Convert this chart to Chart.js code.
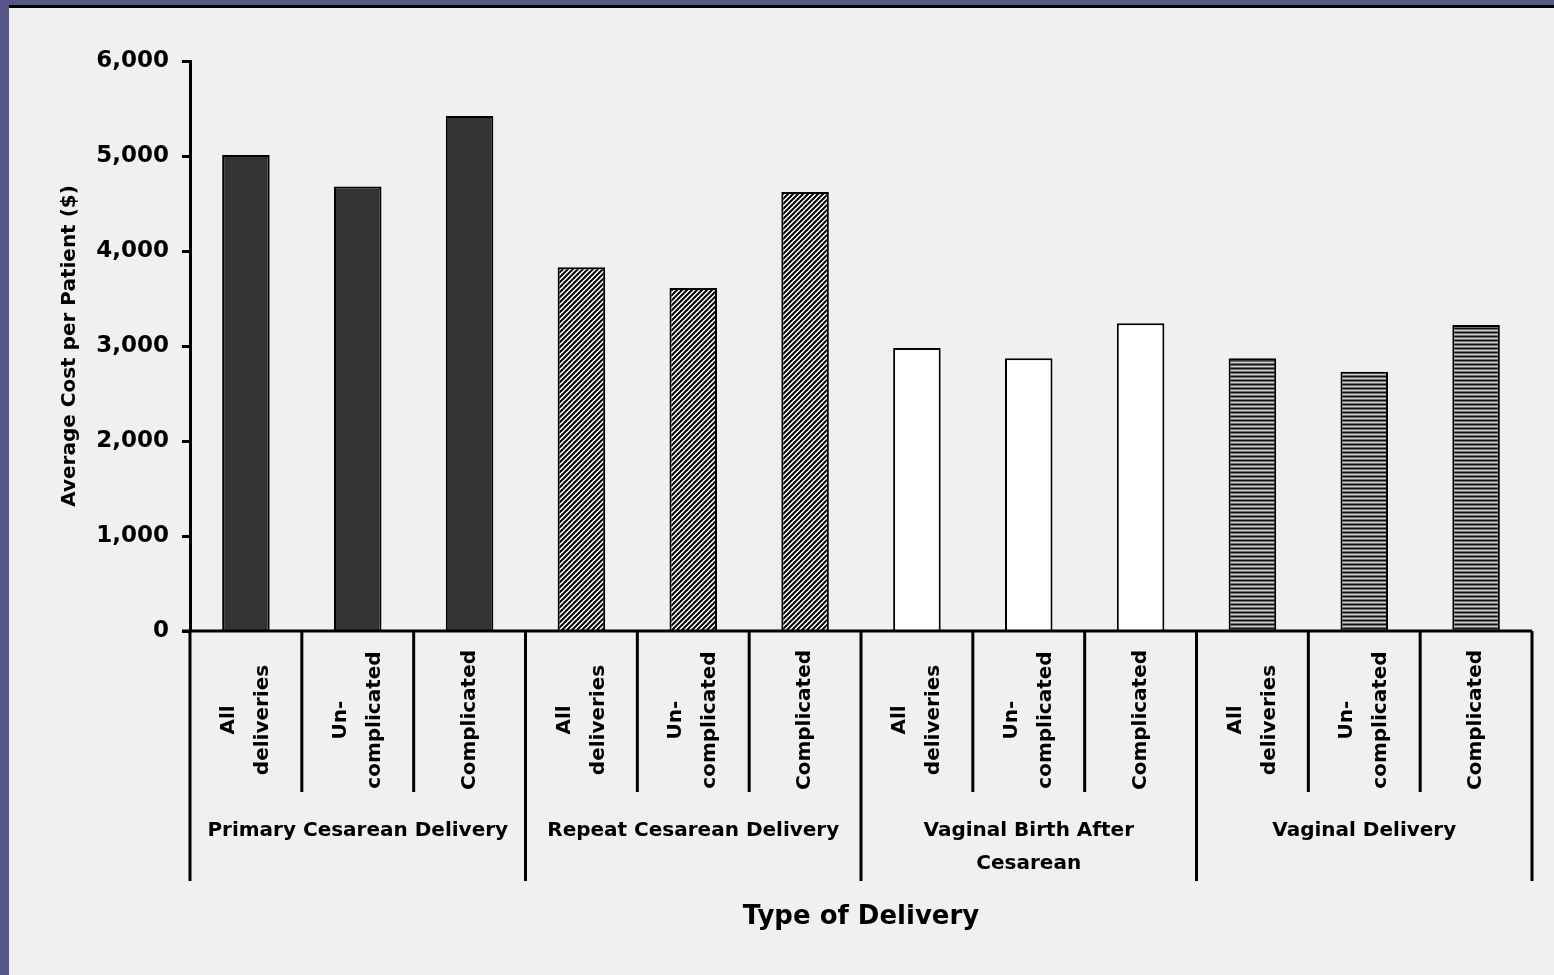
<!DOCTYPE html>
<html>
<head>
<meta charset="utf-8">
<script src="https://cdn.jsdelivr.net/npm/chart.js@4.4.1/dist/chart.umd.min.js"></script>
<style>
    html, body {
        margin: 0;
        padding: 0;
        width: 1554px;
        height: 975px;
        overflow: hidden;
        background: #57578c;
    }
    #panel {
        position: absolute;
        left: 9px;
        top: 5px;
        width: 1545px;
        height: 967px;
        border-top: 3px solid #000;
        background: #f0f0f2;
    }
</style>
</head>
<body>
<div id="panel">
    <canvas id="costChart" width="1545" height="967"></canvas>
</div>
<script>
// Chart data
const subCategories = [
    ['All', 'deliveries'], ['Un-', 'complicated'], ['Complicated'],
    ['All', 'deliveries'], ['Un-', 'complicated'], ['Complicated'],
    ['All', 'deliveries'], ['Un-', 'complicated'], ['Complicated'],
    ['All', 'deliveries'], ['Un-', 'complicated'], ['Complicated']
];
const deliveryTypes = [
    ['Primary Cesarean Delivery'],
    ['Repeat Cesarean Delivery'],
    ['Vaginal Birth After', 'Cesarean'],
    ['Vaginal Delivery']
];
const avgCost = [5010, 4680, 5420, 3830, 3610, 4620, 2980, 2870, 3240, 2870, 2730, 3220];
const yTicks = [0, 1000, 2000, 3000, 4000, 5000, 6000];
const yTitle = 'Average Cost per Patient ($)';
const xTitle = 'Type of Delivery';

const FONT = '"DejaVu Sans", sans-serif';

// Build fill patterns for each delivery type
function makePattern(w, h, draw) {
    const c = document.createElement('canvas');
    c.width = w;
    c.height = h;
    const g = c.getContext('2d');
    draw(g);
    return g.createPattern(c, 'repeat');
}

const solidDark = '#333333';
const hatch = makePattern(5, 5, g => {
    g.fillStyle = '#ffffff';
    g.fillRect(0, 0, 5, 5);
    g.strokeStyle = '#000';
    g.lineWidth = 2;
    g.beginPath();
    g.moveTo(-1, 6); g.lineTo(6, -1);
    g.moveTo(-1, 1); g.lineTo(1, -1);
    g.moveTo(4, 6); g.lineTo(6, 4);
    g.stroke();
});
const plainWhite = '#ffffff';
const stripes = makePattern(4, 4, g => {
    g.fillStyle = '#111'; g.fillRect(0, 0, 4, 1);
    g.fillStyle = '#6e6e6e'; g.fillRect(0, 1, 4, 1);
    g.fillStyle = '#cfcfcf'; g.fillRect(0, 2, 4, 1);
    g.fillStyle = '#6e6e6e'; g.fillRect(0, 3, 4, 1);
});
const groupFills = [solidDark, hatch, plainWhite, stripes];
const barFills = avgCost.map((v, i) => groupFills[Math.floor(i / 3)]);

// Draw the x axis, category labels, dividers and titles
const axisLabels = {
    id: 'axisLabels',
    afterDraw(chart) {
        const ctx = chart.ctx;
        const x = chart.scales.x;
        const area = chart.chartArea;
        const base = area.bottom;
        const step = x.getPixelForValue(1) - x.getPixelForValue(0);

        ctx.save();
        ctx.strokeStyle = '#000';
        ctx.fillStyle = '#000';
        ctx.lineWidth = 3;

        // x axis line
        ctx.beginPath();
        ctx.moveTo(area.left - 8, base);
        ctx.lineTo(area.right, base);
        ctx.stroke();

        // dividers
        for (let i = 0; i <= subCategories.length; i++) {
            const px = i < subCategories.length
                ? x.getPixelForValue(i) - step / 2
                : x.getPixelForValue(i - 1) + step / 2;
            const len = i % 3 === 0 ? 250 : 161;
            ctx.beginPath();
            ctx.moveTo(px, base);
            ctx.lineTo(px, base + len);
            ctx.stroke();
        }

        // rotated sub-category labels
        ctx.font = 'bold 20px ' + FONT;
        ctx.textAlign = 'center';
        ctx.textBaseline = 'middle';
        subCategories.forEach((lines, i) => {
            const cx = x.getPixelForValue(i);
            lines.forEach((line, j) => {
                const off = (j - (lines.length - 1) / 2) * 34;
                ctx.save();
                ctx.translate(cx + off, base + 89);
                ctx.rotate(-Math.PI / 2);
                ctx.fillText(line, 0, 0);
                ctx.restore();
            });
        });

        // group labels
        ctx.font = 'bold 20px ' + FONT;
        deliveryTypes.forEach((lines, g) => {
            const cx = (x.getPixelForValue(g * 3) + x.getPixelForValue(g * 3 + 2)) / 2;
            lines.forEach((line, j) => {
                ctx.fillText(line, cx, base + 200 + j * 33);
            });
        });

        // x title
        ctx.font = 'bold 26px ' + FONT;
        ctx.fillText(xTitle, (area.left + area.right) / 2, base + 286);

        // y title
        ctx.font = 'bold 20px ' + FONT;
        ctx.save();
        ctx.translate(61, (area.top + area.bottom) / 2);
        ctx.rotate(-Math.PI / 2);
        ctx.fillText(yTitle, 0, 0);
        ctx.restore();

        ctx.restore();
    }
};

const ctx = document.getElementById('costChart').getContext('2d');

new Chart(ctx, {
    type: 'bar',
    data: {
        labels: subCategories.map(l => l.join(' ')),
        datasets: [{
            data: avgCost,
            backgroundColor: barFills,
            borderColor: '#000',
            borderWidth: 2,
            borderSkipped: 'bottom',
            barPercentage: 0.425,
            categoryPercentage: 1
        }]
    },
    options: {
        responsive: false,
        animation: false,
        layout: {
            padding: { top: 53, right: 22, left: 0, bottom: 0 }
        },
        plugins: {
            legend: { display: false },
            tooltip: { enabled: false }
        },
        scales: {
            x: {
                grid: { display: false },
                border: { display: false },
                ticks: { display: false },
                afterFit: scale => { scale.height = 344; }
            },
            y: {
                min: 0,
                max: 6000,
                afterBuildTicks: scale => {
                    scale.ticks = yTicks.map(v => ({ value: v }));
                },
                afterFit: scale => { scale.width = 181; },
                border: { display: true, color: '#000', width: 3 },
                grid: {
                    drawOnChartArea: false,
                    drawTicks: true,
                    tickLength: 8,
                    tickWidth: 3,
                    tickColor: '#000'
                },
                ticks: {
                    color: '#000',
                    padding: 13,
                    font: { family: FONT, size: 23, weight: 'bold' },
                    callback: value => value.toLocaleString('en-US')
                }
            }
        }
    },
    plugins: [axisLabels]
});
</script>
</body>
</html>
